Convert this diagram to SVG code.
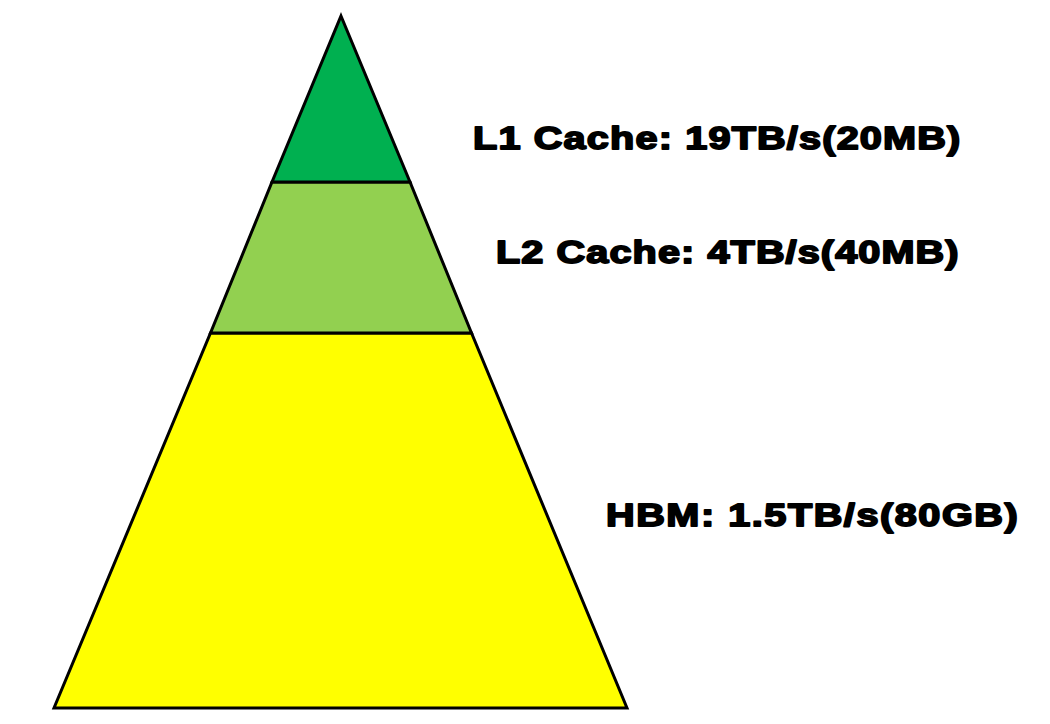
<svg xmlns="http://www.w3.org/2000/svg" width="1050" height="724" viewBox="0 0 1050 724">
<style>
.tier{stroke:#000;stroke-width:3;stroke-linejoin:miter}
.lbl{font-family:"Liberation Sans",Arial,sans-serif;font-weight:bold;font-size:32px;fill:#000;stroke:#000;stroke-width:1.8;stroke-linejoin:round}
</style>
<rect width="1050" height="724" fill="#fff"/>
<g id="hbm">
<polygon class="tier" fill="#FFFF00" points="210.5,333 471.5,333 627,708 54,708"/>
<text class="lbl" transform="translate(606,526) scale(1.24,1)" textLength="332" lengthAdjust="spacing">HBM: 1.5TB/s(80GB)</text>
</g>
<g id="l2">
<polygon class="tier" fill="#92D050" points="272,182 410,182 471.5,333 210.5,333"/>
<text class="lbl" transform="translate(496,263) scale(1.24,1)" textLength="373" lengthAdjust="spacing">L2 Cache: 4TB/s(40MB)</text>
</g>
<g id="l1">
<polygon class="tier" fill="#00B050" points="341,16 410,182 272,182"/>
<text class="lbl" transform="translate(473,149) scale(1.24,1)" textLength="393" lengthAdjust="spacing">L1 Cache: 19TB/s(20MB)</text>
</g>
<g id="connectors"/>
</svg>
